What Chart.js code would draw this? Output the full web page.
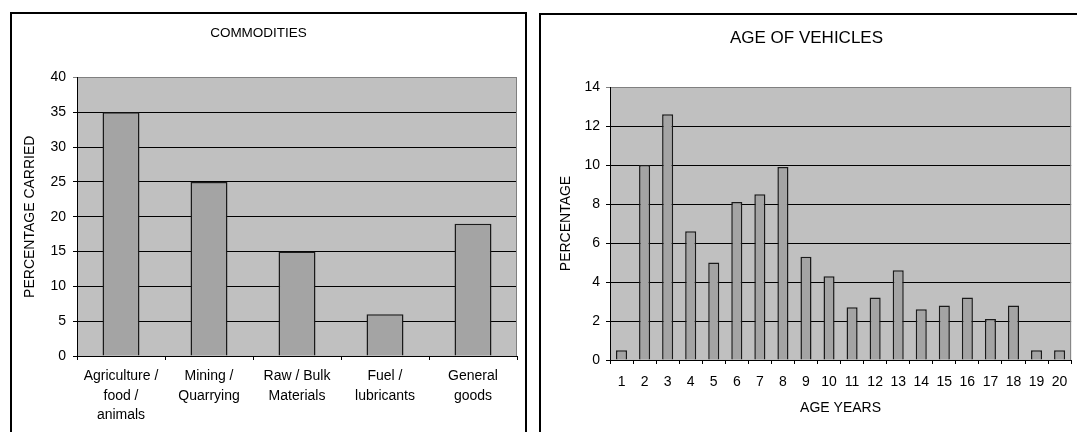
<!DOCTYPE html>
<html>
<head>
<meta charset="utf-8">
<script src="https://cdn.jsdelivr.net/npm/chart.js@4/dist/chart.umd.min.js"></script>
<style>
  html, body { margin: 0; padding: 0; background: #fff; width: 1077px; height: 432px; overflow: hidden; }
  body { position: relative; }
  .frame { position: absolute; box-sizing: border-box; border: 2px solid #000; background: #fff; }
  #frameLeft { left: 10px; top: 12px; width: 517px; height: 440px; }
  #frameRight { left: 539px; top: 13px; width: 560px; height: 440px; }
  canvas { position: absolute; top: 0; }
  #commodities { left: 0; }
  #vehicleAge { left: 537px; }
</style>
</head>
<body>
<div class="frame" id="frameLeft"></div>
<div class="frame" id="frameRight"></div>
<canvas id="commodities" width="530" height="432"></canvas>
<canvas id="vehicleAge" width="540" height="432"></canvas>
<script>
// Share of loads by commodity type (%)
const commodityLabels = [
  ['Agriculture /', 'food /', 'animals'],
  ['Mining /', 'Quarrying'],
  ['Raw / Bulk', 'Materials'],
  ['Fuel /', 'lubricants'],
  ['General', 'goods']
];
const commodityShare = [35, 25, 15, 6, 19];

// Fleet age distribution (%)
const ageYears = ['1', '2', '3', '4', '5', '6', '7', '8', '9', '10',
                  '11', '12', '13', '14', '15', '16', '17', '18', '19', '20'];
const vehicleShare = [0.5, 10, 12.6, 6.6, 5.0, 8.1, 8.5, 9.9, 5.3, 4.3,
                      2.7, 3.2, 4.6, 2.6, 2.8, 3.2, 2.1, 2.8, 0.5, 0.5];

const FONT = "'Liberation Sans', Arial, sans-serif";
Chart.defaults.font.family = FONT;
Chart.defaults.color = '#000';

// Grey plot background with a grey frame on the right edge
const plotFrame = {
  id: 'plotFrame',
  beforeDraw(chart) {
    const { ctx, chartArea: a } = chart;
    ctx.save();
    ctx.fillStyle = '#c0c0c0';
    ctx.fillRect(a.left, a.top, a.right - a.left, a.bottom - a.top);
    ctx.restore();
  },
  beforeDatasetsDraw(chart) {
    const { ctx, chartArea: a } = chart;
    ctx.save();
    ctx.strokeStyle = '#808080';
    ctx.lineWidth = 1;
    ctx.beginPath();
    ctx.moveTo(a.right - 0.5, a.top);
    ctx.lineTo(a.right - 0.5, a.bottom);
    ctx.stroke();
    ctx.restore();
  }
};

function makeChart(id, cfg) {
  return new Chart(document.getElementById(id), {
    type: 'bar',
    data: {
      labels: cfg.labels,
      datasets: [{
        data: cfg.values,
        backgroundColor: '#a4a4a4',
        borderColor: '#1a1a1a',
        borderWidth: 1.5,
        barPercentage: cfg.barPct,
        categoryPercentage: 1
      }]
    },
    options: {
      responsive: false,
      animation: false,
      layout: { padding: { left: 0, right: cfg.padRight, top: 0, bottom: 0 } },
      plugins: {
        legend: { display: false },
        tooltip: { enabled: false },
        title: {
          display: true,
          text: cfg.title,
          color: '#000',
          font: { family: FONT, size: cfg.titleSize, weight: 'normal' },
          padding: cfg.titlePad
        }
      },
      scales: {
        x: {
          grid: { drawOnChartArea: false, drawTicks: true, tickLength: 4, color: '#000' },
          border: { display: true, color: '#000', width: 1 },
          ticks: {
            color: '#000', autoSkip: false, maxRotation: 0, minRotation: 0,
            padding: cfg.xTickPad,
            font: { family: FONT, size: 14, lineHeight: cfg.xLineHeight }
          },
          title: cfg.xTitle ? {
            display: true, text: cfg.xTitle, color: '#000',
            font: { family: FONT, size: 14 }, padding: { top: 0, bottom: 15.6 }
          } : { display: false },
          afterFit(scale) { scale.height = cfg.xHeight; }
        },
        y: {
          min: 0, max: cfg.yMax,
          ticks: { stepSize: cfg.yStep, color: '#000', padding: cfg.yTickPad, font: { family: FONT, size: 14 } },
          grid: {
            drawTicks: true, tickLength: 4, lineWidth: 1,
            color: (c) => (c.tick && c.tick.value === cfg.yMax ? '#808080' : '#000')
          },
          border: { display: true, color: '#000', width: 1 },
          title: {
            display: true, text: cfg.yTitle, color: '#000',
            font: { family: FONT, size: 14 }, padding: { top: cfg.yTitlePad, bottom: 0 }
          },
          afterFit(scale) { scale.width = cfg.yWidth; }
        }
      }
    },
    plugins: [plotFrame]
  });
}

makeChart('commodities', {
  labels: commodityLabels,
  values: commodityShare,
  title: 'COMMODITIES',
  titleSize: 13.5,
  titlePad: { top: 25, bottom: 36.3 },
  barPct: 0.42,
  padRight: 13,
  yMax: 40, yStep: 5,
  yWidth: 77, yTickPad: 7,
  yTitle: 'PERCENTAGE CARRIED', yTitlePad: 21.6,
  xHeight: 76, xTickPad: 6.5, xLineHeight: 1.4,
  xTitle: null
});

makeChart('vehicleAge', {
  labels: ageYears,
  values: vehicleShare,
  title: 'AGE OF VEHICLES',
  titleSize: 17,
  titlePad: { top: 28.5, bottom: 38.1 },
  barPct: 0.48,
  padRight: 1,
  yMax: 14, yStep: 2,
  yWidth: 73, yTickPad: 6,
  yTitle: 'PERCENTAGE', yTitlePad: 20.6,
  xHeight: 72, xTickPad: 9.6, xLineHeight: 1.2,
  xTitle: 'AGE YEARS'
});
</script>
</body>
</html>
